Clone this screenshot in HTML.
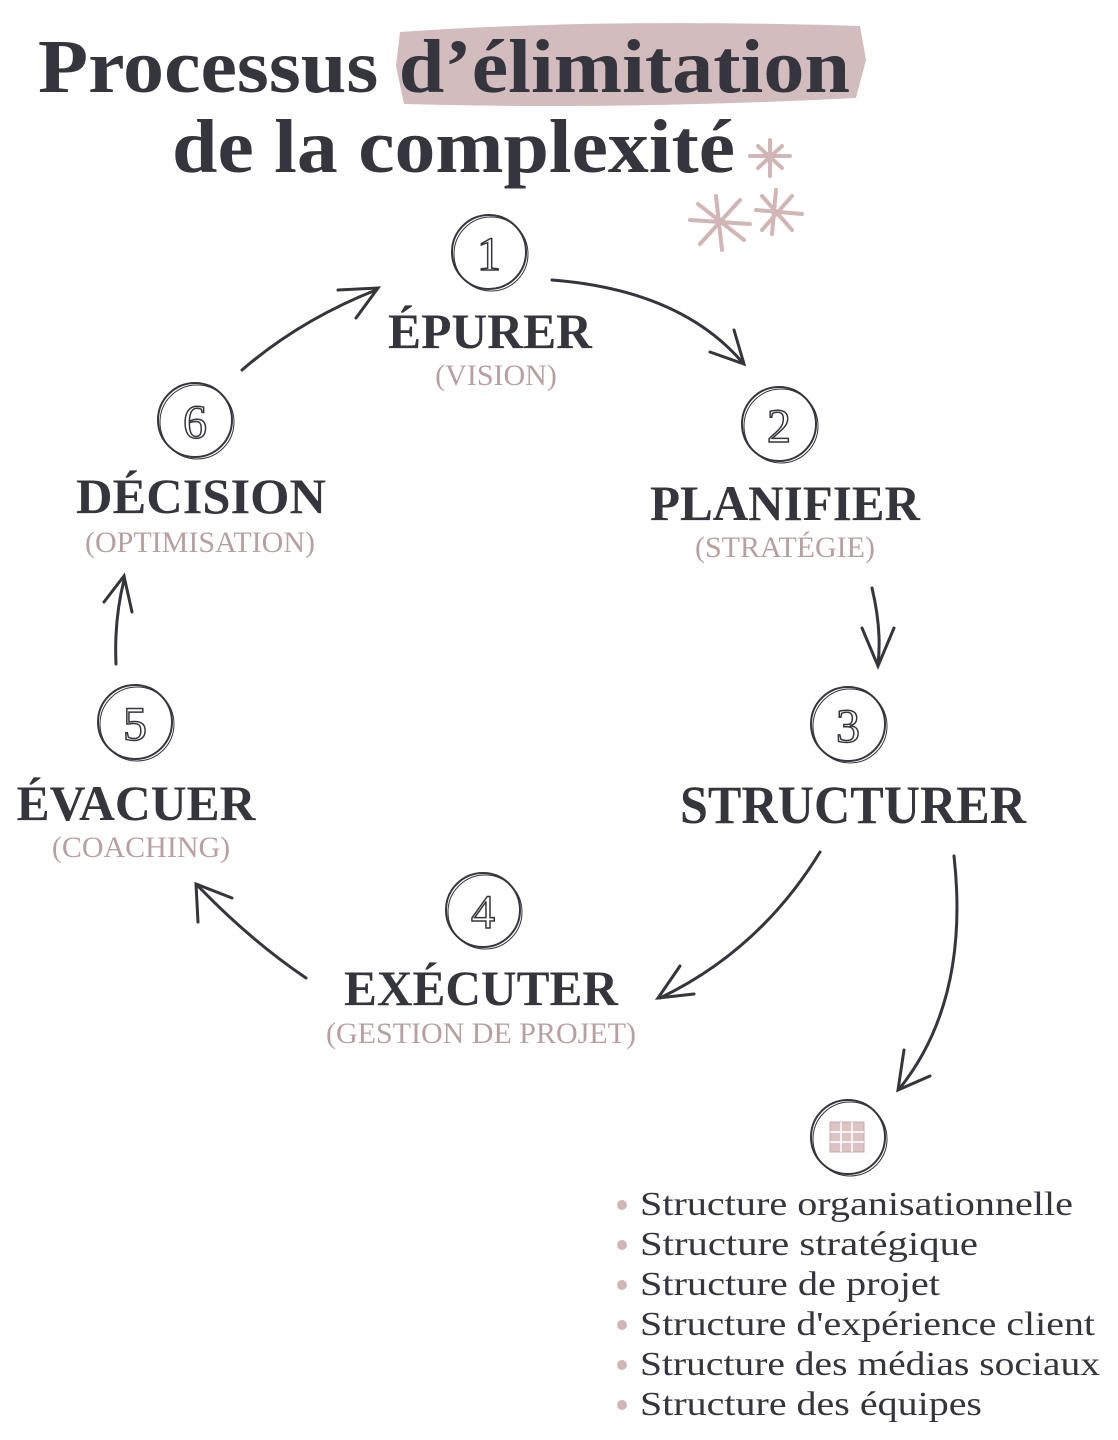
<!DOCTYPE html>
<html><head><meta charset="utf-8"><style>
html,body{margin:0;padding:0;background:#fff}
svg{display:block}
text{font-family:"Liberation Serif",serif}
</style></head><body>
<svg width="1118" height="1440" viewBox="0 0 1118 1440" xmlns="http://www.w3.org/2000/svg">
<path d="M400 32 Q600 18 860 26 L866 60 L856 98 Q620 110 404 104 L396 66 Z" fill="#d2bcbd"/>
<text x="38" y="92" font-size="76" font-weight="bold" fill="#35353d" textLength="812" lengthAdjust="spacingAndGlyphs">Processus d’élimitation</text>
<text x="172" y="172" font-size="76" font-weight="bold" fill="#35353d" textLength="563" lengthAdjust="spacingAndGlyphs">de la complexité</text>
<g stroke="#d2b6b6" stroke-width="4" stroke-linecap="round">
<path d="M750 156 L790 156 M770 140 L770 176 M758 146 L782 168 M782 146 L758 168"/>
<path d="M690 220 L750 224 M716 196 L722 250 M698 204 L744 240 M740 200 L700 244"/>
<path d="M756 210 L802 214 M776 190 L772 234 M762 196 L792 230 M792 196 L762 230"/>
</g>
<g fill="none" stroke="#35353d" stroke-width="2">
<circle cx="489" cy="252" r="37"/><circle cx="491" cy="254" r="37" stroke-width="1"/>
<circle cx="779" cy="424" r="37"/><circle cx="781" cy="426" r="37" stroke-width="1"/>
<circle cx="848" cy="724" r="37"/><circle cx="850" cy="726" r="37" stroke-width="1"/>
<circle cx="483" cy="910" r="37"/><circle cx="485" cy="912" r="37" stroke-width="1"/>
<circle cx="135" cy="722" r="37"/><circle cx="137" cy="724" r="37" stroke-width="1"/>
<circle cx="195" cy="420" r="37"/><circle cx="197" cy="422" r="37" stroke-width="1"/>
<circle cx="848" cy="1137" r="37"/><circle cx="850" cy="1139" r="37" stroke-width="1"/>
</g>
<g font-size="48" fill="#fff" stroke="#35353d" stroke-width="1.5" text-anchor="middle">
<text x="489" y="270">1</text><text x="779" y="442">2</text><text x="848" y="742">3</text>
<text x="483" y="928">4</text><text x="135" y="740">5</text><text x="195" y="438">6</text>
</g>
<rect x="830" y="1122" width="34" height="30" fill="#dcc4c4" stroke="#c9a9aa"/>
<g stroke="#fff" stroke-width="1.5"><path d="M841 1122V1152M852 1122V1152M830 1132H864M830 1142H864"/></g>
<g fill="#35353d" text-anchor="middle" font-weight="bold" lengthAdjust="spacingAndGlyphs">
<text x="490" y="348" font-size="50" textLength="204" lengthAdjust="spacingAndGlyphs">ÉPURER</text>
<text x="201" y="513" font-size="50" textLength="250" lengthAdjust="spacingAndGlyphs">DÉCISION</text>
<text x="785" y="520" font-size="50" textLength="270" lengthAdjust="spacingAndGlyphs">PLANIFIER</text>
<text x="853" y="823" font-size="54" textLength="346" lengthAdjust="spacingAndGlyphs">STRUCTURER</text>
<text x="136" y="820" font-size="50" textLength="239" lengthAdjust="spacingAndGlyphs">ÉVACUER</text>
<text x="481" y="1005" font-size="50" textLength="274" lengthAdjust="spacingAndGlyphs">EXÉCUTER</text>
</g>
<g fill="#b9a0a0" text-anchor="middle" font-size="30">
<text x="496" y="385">(VISION)</text>
<text x="200" y="552">(OPTIMISATION)</text>
<text x="785" y="557">(STRATÉGIE)</text>
<text x="141" y="857">(COACHING)</text>
<text x="481" y="1043">(GESTION DE PROJET)</text>
</g>
<g fill="none" stroke="#35353d" stroke-width="3" stroke-linecap="round">
<path d="M552 280 Q680 290 742 362"/><path d="M734 330 L744 364 L710 352"/>
<path d="M872 588 Q882 630 878 664"/><path d="M862 628 L878 666 L894 628"/>
<path d="M820 852 Q760 950 660 998"/><path d="M680 966 L658 998 L694 994"/>
<path d="M954 856 Q970 1000 900 1088"/><path d="M904 1050 L898 1090 L930 1076"/>
<path d="M306 978 Q250 940 198 886"/><path d="M198 922 L196 884 L232 898"/>
<path d="M116 664 Q114 620 124 580"/><path d="M104 602 L124 576 L132 612"/>
<path d="M242 370 Q300 320 376 290"/><path d="M338 290 L378 288 L356 318"/>
</g>
<g fill="#d2b6b6">
<circle cx="622" cy="1205" r="5"/><circle cx="622" cy="1245" r="5"/><circle cx="622" cy="1285" r="5"/>
<circle cx="622" cy="1325" r="5"/><circle cx="622" cy="1365" r="5"/><circle cx="622" cy="1405" r="5"/>
</g>
<g fill="#35353d" font-size="34">
<text x="640" y="1215" textLength="433" lengthAdjust="spacingAndGlyphs">Structure organisationnelle</text>
<text x="640" y="1255" textLength="338" lengthAdjust="spacingAndGlyphs">Structure stratégique</text>
<text x="640" y="1295" textLength="300" lengthAdjust="spacingAndGlyphs">Structure de projet</text>
<text x="640" y="1335" textLength="455" lengthAdjust="spacingAndGlyphs">Structure d'expérience client</text>
<text x="640" y="1375" textLength="460" lengthAdjust="spacingAndGlyphs">Structure des médias sociaux</text>
<text x="640" y="1415" textLength="342" lengthAdjust="spacingAndGlyphs">Structure des équipes</text>
</g>
</svg>
</body></html>
